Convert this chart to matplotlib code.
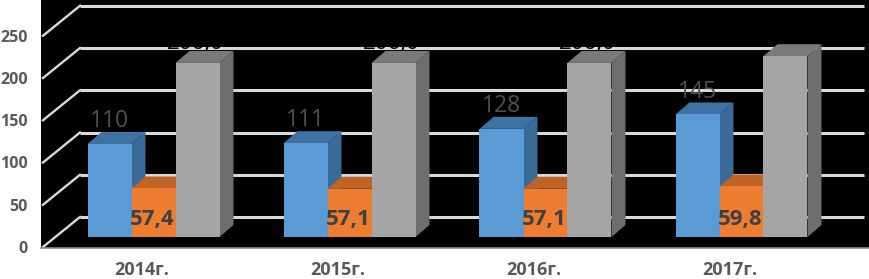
import numpy as np
import matplotlib
matplotlib.use("Agg")
import matplotlib.pyplot as plt
from matplotlib.patches import Polygon

plt.rcParams['font.family'] = ['Open Sans', 'DejaVu Sans']

# Data (gray labels are mostly hidden in the reference)
years = ["2014г.", "2015г.", "2016г.", "2017г."]
blue_vals = [110, 111, 128, 145]
orange_vals = [57.4, 57.1, 57.1, 59.8]
gray_vals = [206, 206, 206, 214]
blue_labels = ["110", "111", "128", "145"]
orange_labels = ["57,4", "57,1", "57,1", "59,8"]
gray_labels = ["206,0", "206,0", "206,0", "214,0"]
y_ticks = [0, 50, 100, 150, 200, 250]

W, H = 869, 279
px_x = 196.0      # pixels per category
px_y = 0.845      # pixels per value unit
bar_w = 44 / px_x
dep_x = 14 / px_x
dep_y = 12 / px_y
wall_up = 20 / px_y
floor_down = 10 / px_y

fig = plt.figure(figsize=(W / 100, H / 100), dpi=100)
# black plot area runs from x=41 to the right edge, y=0 to 248
ax = fig.add_axes([41 / W, 1 - 248 / H, 1 - 41 / W, 248 / H])
ax.set_facecolor("black")
ax.set_xlim((41 - 153.5) / px_x, (869 - 153.5) / px_x)
ax.set_ylim(-floor_down - 1 / px_y, (237 - 0) / px_y)

for s in ["top", "right", "left"]:
    ax.spines[s].set_visible(False)
ax.spines["bottom"].set_color("#8c8c8c")
ax.spines["bottom"].set_linewidth(1.2)

# back wall gridlines and the slanted lines on the side wall
x_left = ax.get_xlim()[0] + 2 / px_x
x_wall = ax.get_xlim()[0] + 39 / px_x
x_end = ax.get_xlim()[1] - 5 / px_x
for v in y_ticks:
    ax.plot([x_wall, x_end], [v + wall_up, v + wall_up], color="#d9d9d9", lw=2.2, zorder=1,
            solid_capstyle="butt")
    ax.plot([x_left, x_wall], [v - floor_down, v + wall_up], color="#d9d9d9", lw=1.7, zorder=1)

ax.set_yticks([v - floor_down for v in y_ticks])
ax.set_yticklabels([str(v) for v in y_ticks], fontsize=11.5, fontweight="bold", color="#595959")
ax.tick_params(axis="y", length=0, pad=9.5)
# category labels sit a little left of the bar groups
ax.set_xticks(np.arange(len(years)) - 12 / px_x)
ax.set_xticklabels(years, fontsize=13, fontweight="bold", color="#595959")
ax.tick_params(axis="x", length=0, pad=9.5)


def draw_bar(x0, val, front, top, side, z):
    x1 = x0 + bar_w
    ax.add_patch(Polygon([(x1, 0), (x1 + dep_x, dep_y), (x1 + dep_x, val + dep_y), (x1, val)],
                         facecolor=side, edgecolor="none", zorder=z))
    ax.add_patch(Polygon([(x0, val), (x0 + dep_x, val + dep_y), (x1 + dep_x, val + dep_y), (x1, val)],
                         facecolor=top, edgecolor="none", zorder=z))
    ax.bar(x0, val, width=bar_w, align="edge", color=front, zorder=z + 3)


x = np.arange(len(years))
for i in x:
    draw_bar(i - 1.5 * bar_w, blue_vals[i], "#5b9bd5", "#3f72a3", "#3a6a98", 2)
    draw_bar(i - 0.5 * bar_w, orange_vals[i], "#ed7d31", "#bf6426", "#bf6426", 3)
    draw_bar(i + 0.5 * bar_w, gray_vals[i], "#a5a5a5", "#7a7a7a", "#6e6e6e", 4)

    ax.text(i - 1.5 * bar_w + 22 / px_x, blue_vals[i] + dep_y - 1.5, blue_labels[i], ha="center", va="bottom",
            fontsize=16.5, fontweight="medium", color="#505050", zorder=10)
    ax.text(i - 0.5 * bar_w + 21 / px_x, 21, orange_labels[i], ha="center", va="center",
            fontsize=16, fontweight="bold", color="#404040", zorder=10)
    # black on black: only shows where it cuts the gridline behind it
    ax.text(i + 0.5 * bar_w + 20 / px_x, gray_vals[i] + dep_y + 2.4, gray_labels[i], ha="center", va="baseline",
            fontsize=16, color="black", zorder=1.5)

fig.savefig("out.png", dpi=100, facecolor="white")
